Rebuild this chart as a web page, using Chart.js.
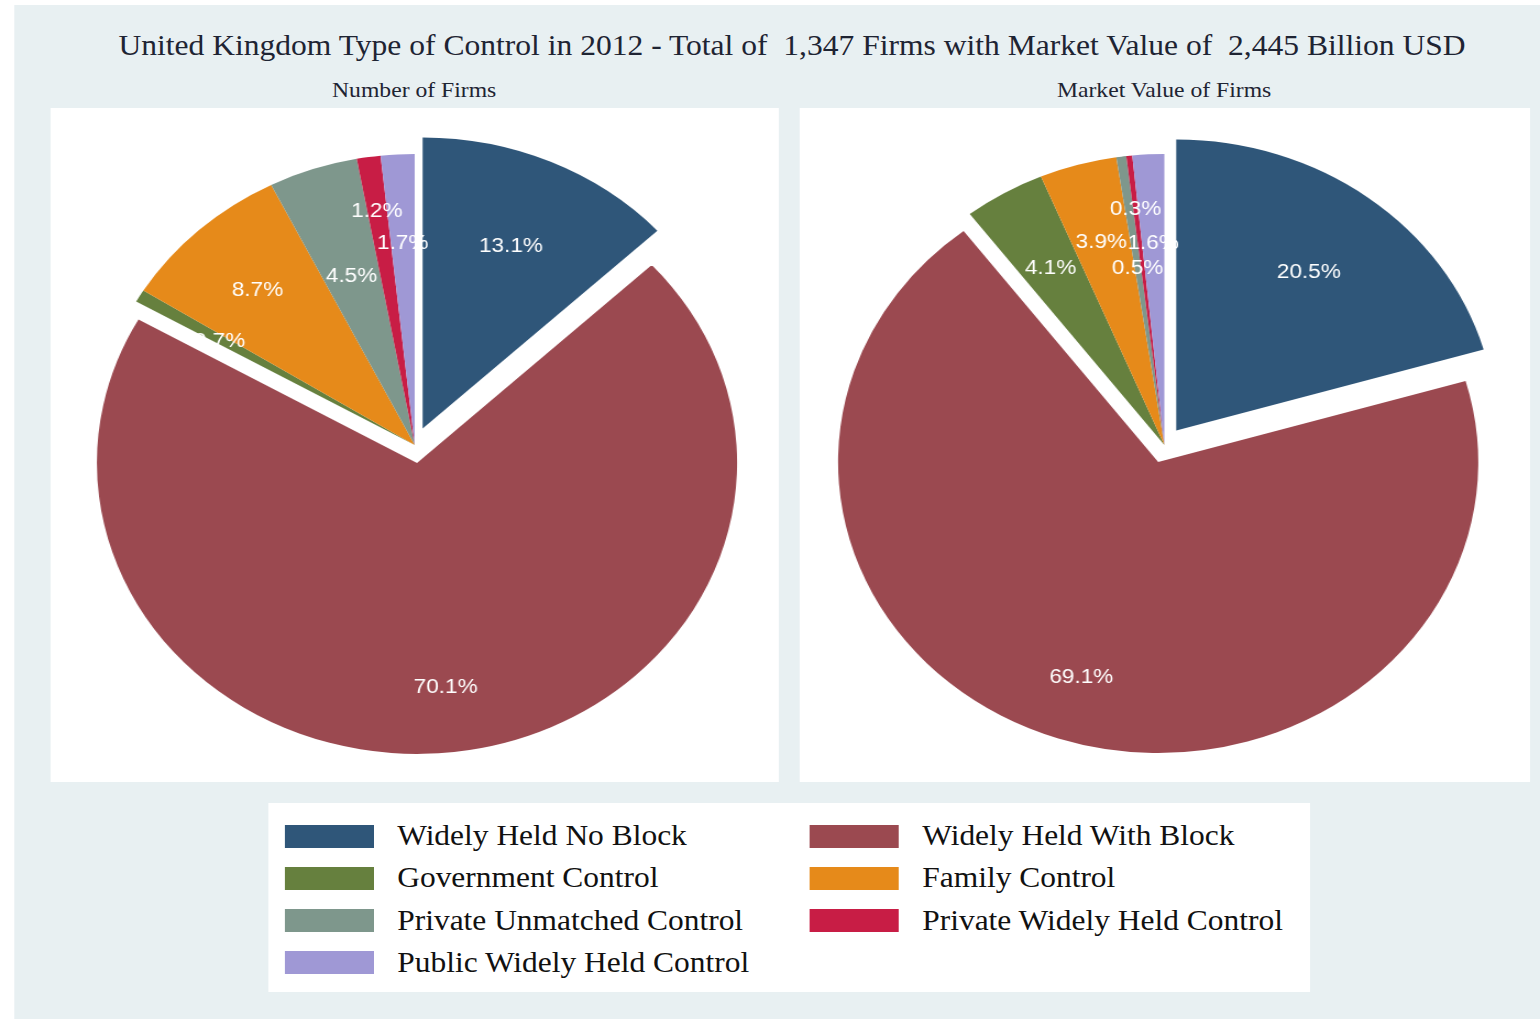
<!DOCTYPE html>
<html lang="en">
<head>
<meta charset="UTF-8">
<title>United Kingdom Type of Control in 2012</title>
<script src="https://cdn.jsdelivr.net/npm/chart.js"></script>
<style>
    body {
        margin: 0;
        background: #ffffff;
        overflow: hidden;
    }

    /* the whole figure is laid out 1400 wide and stretched to 1540 */
    #page {
        position: absolute;
        left: 0;
        top: 0;
        width: 1400px;
        height: 1019px;
        transform-origin: 0 0;
        transform: scaleX(1.1);
        font-family: "Liberation Serif", "DejaVu Serif", serif;
    }

    #bg {
        position: absolute;
        left: 12.7px;
        top: 5px;
        width: 1387.3px;
        height: 1014px;
        background: #e8f0f2;
    }

    .title {
        position: absolute;
        left: 0;
        width: 1440px;
        top: 29px;
        text-align: center;
        font-size: 28.7px;
        color: #1e2433;
        white-space: pre;
    }

    .subtitle {
        position: absolute;
        top: 78px;
        font-size: 21.5px;
        color: #1e2433;
        text-align: center;
        width: 662px;
    }

    .panel {
        position: absolute;
        top: 108px;
        width: 662px;
        height: 674px;
        background: #ffffff;
    }

    .panel canvas {
        display: block;
    }

    #legend {
        position: absolute;
        left: 243.6px;
        top: 803px;
        width: 947px;
        height: 189px;
        background: #ffffff;
    }

    .legend-item {
        position: absolute;
        height: 42px;
        display: flex;
        align-items: center;
        font-size: 28.6px;
        color: #111111;
        white-space: nowrap;
    }

    .legend-item .swatch {
        width: 81px;
        height: 23px;
        margin-right: 21px;
    }
</style>
</head>
<body>
<div id="page">
    <div id="bg"></div>
    <div class="title">United Kingdom Type of Control in 2012 - Total of  1,347 Firms with Market Value of  2,445 Billion USD</div>

    <div class="subtitle" style="left: 45.5px;">Number of Firms</div>
    <div class="subtitle" style="left: 727.3px;">Market Value of Firms</div>

    <div class="panel" style="left: 45.5px;">
        <canvas id="firmsChart" width="662" height="674"></canvas>
    </div>
    <div class="panel" style="left: 727.3px; width: 663.6px;">
        <canvas id="valueChart" width="663" height="674"></canvas>
    </div>

    <div id="legend"></div>
</div>

<script>
    // Categories and colours (same order in both pies)
    const categories = [
        'Widely Held No Block',
        'Widely Held With Block',
        'Government Control',
        'Family Control',
        'Private Unmatched Control',
        'Private Widely Held Control',
        'Public Widely Held Control'
    ];
    const colors = ['#2f5679', '#9b4950', '#66803e', '#e68a1a', '#7e978c', '#c81d45', '#9f98d5'];

    // Shares in percent
    const firmsShare = [13.1, 70.1, 0.7, 8.7, 4.5, 1.2, 1.7];
    const valueShare = [20.5, 69.1, 4.1, 3.9, 0.5, 0.3, 1.6];

    // Slices pulled out of the pie
    const explodedSlices = [0, 1];
    const explodeDistance = 18;

    // Where each percentage label sits, as a fraction of the radius
    const labelRadius = [0.69, 0.77, 0.71, 0.73, 0.62, 0.82, 0.70];

    // Shift the exploded arcs outward along their middle angle
    const explodePlugin = {
        id: 'explode',
        afterDatasetUpdate(chart, args) {
            args.meta.data.forEach((arc, i) => {
                if (!explodedSlices.includes(i)) return;
                const mid = (arc.startAngle + arc.endAngle) / 2;
                arc.x += Math.cos(mid) * explodeDistance;
                arc.y += Math.sin(mid) * explodeDistance;
            });
        }
    };

    // White percentage labels inside the slices
    const pctLabelPlugin = {
        id: 'pctLabels',
        afterDatasetsDraw(chart) {
            const ctx = chart.ctx;
            const values = chart.data.datasets[0].data;
            ctx.save();
            ctx.font = '20.5px "Liberation Sans", Arial, sans-serif';
            ctx.fillStyle = '#ffffff';
            ctx.textAlign = 'center';
            ctx.textBaseline = 'middle';
            chart.getDatasetMeta(0).data.forEach((arc, i) => {
                const mid = (arc.startAngle + arc.endAngle) / 2;
                const r = arc.outerRadius * labelRadius[i];
                ctx.fillText(values[i].toFixed(1) + '%', arc.x + Math.cos(mid) * r, arc.y + Math.sin(mid) * r + 2);
            });
            ctx.restore();
        }
    };

    function makePie(id, values) {
        return new Chart(document.getElementById(id), {
            type: 'pie',
            data: {
                labels: categories,
                datasets: [{
                    data: values,
                    backgroundColor: colors,
                    borderWidth: 0
                }]
            },
            options: {
                responsive: false,
                animation: false,
                radius: 291,
                layout: { padding: 0 },
                plugins: {
                    legend: { display: false },
                    tooltip: { enabled: false }
                }
            },
            plugins: [explodePlugin, pctLabelPlugin]
        });
    }

    makePie('firmsChart', firmsShare);
    makePie('valueChart', valueShare);

    // Shared legend, two columns
    const legend = document.getElementById('legend');
    categories.forEach((name, i) => {
        const item = document.createElement('div');
        item.className = 'legend-item';
        item.style.left = (i % 2 === 0 ? 15.5 : 492.8) + 'px';
        item.style.top = (12 + Math.floor(i / 2) * 42.3) + 'px';
        item.innerHTML = '<div class="swatch" style="background:' + colors[i] + '"></div><span>' + name + '</span>';
        legend.appendChild(item);
    });
</script>
</body>
</html>
